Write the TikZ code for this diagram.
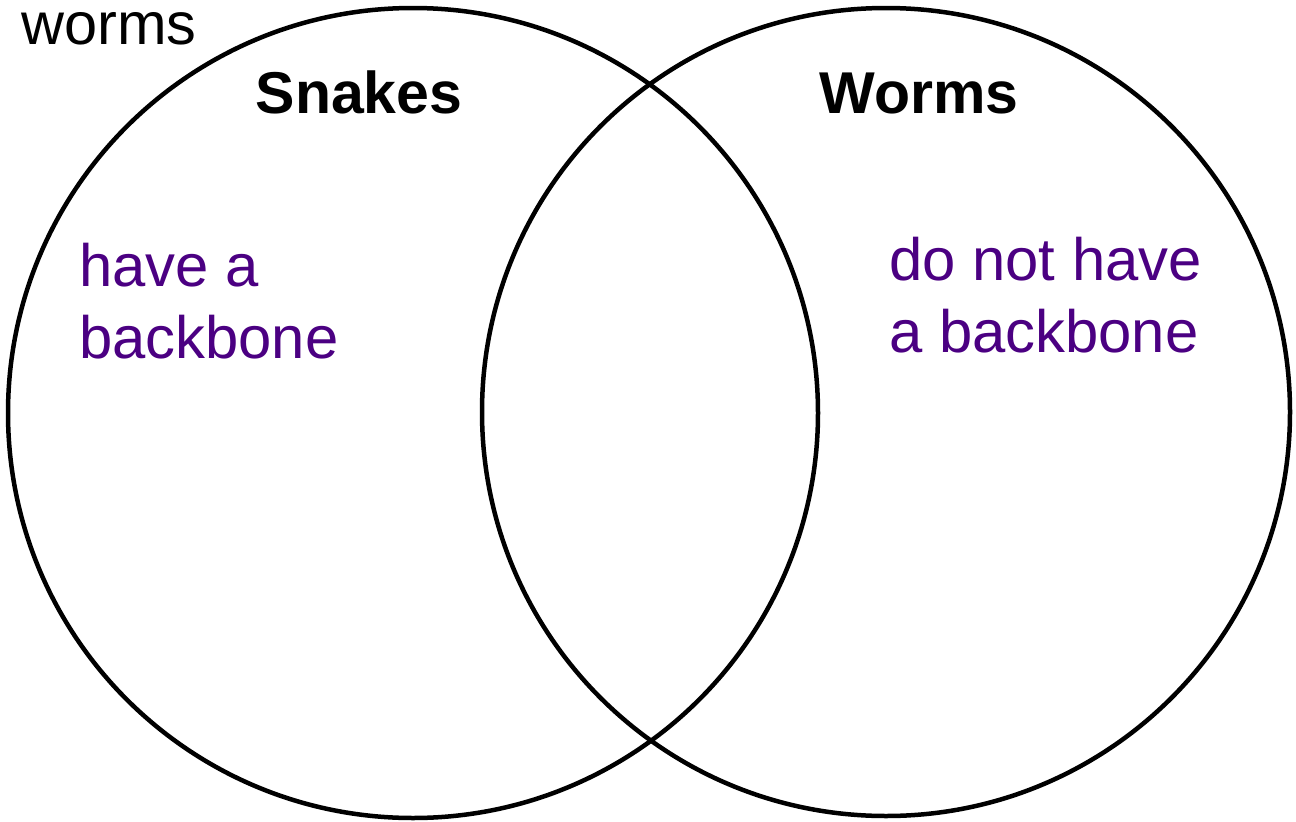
\documentclass[tikz,border=0pt]{standalone}
\usepackage{fontspec}
\setmainfont{Liberation Sans}
\usepackage{xcolor}
\usepackage{tikz}
\usetikzlibrary{positioning}
\definecolor{ink}{HTML}{000000}
\definecolor{trait}{HTML}{4B0082}
\tikzset{
  ring/.style={draw=ink,line width=4.5pt},
  title/.style={anchor=base,inner sep=0pt,font=\bfseries\fontsize{59}{70}\selectfont,text=ink},
  fact/.style={anchor=base west,inner sep=0pt,align=left,font=\fontsize{59.8}{72}\selectfont,text=trait},
  tag/.style={anchor=base west,inner sep=0pt,font=\fontsize{59.5}{70}\selectfont,text=ink}
}

\begin{document}
\begin{tikzpicture}[x=1pt,y=-1pt]
  \useasboundingbox (0,0) rectangle (1296,822);
  \draw[ring] (413,413) circle[radius=405];
  \draw[ring] (886,412) circle[radius=404];

  \node[tag] (stray) at (21,44) {worms};
  \node[title] (snakes) at (359,113) {Snakes};
  \node[title] (worms) at (919,113) {Worms};

  % base anchor sits on the last line
  \node[fact] (bone) at (79,358) {have a\\backbone};
  \node[fact] (nobone) at (889,352) {do not have\\a backbone};
\end{tikzpicture}
\end{document}
